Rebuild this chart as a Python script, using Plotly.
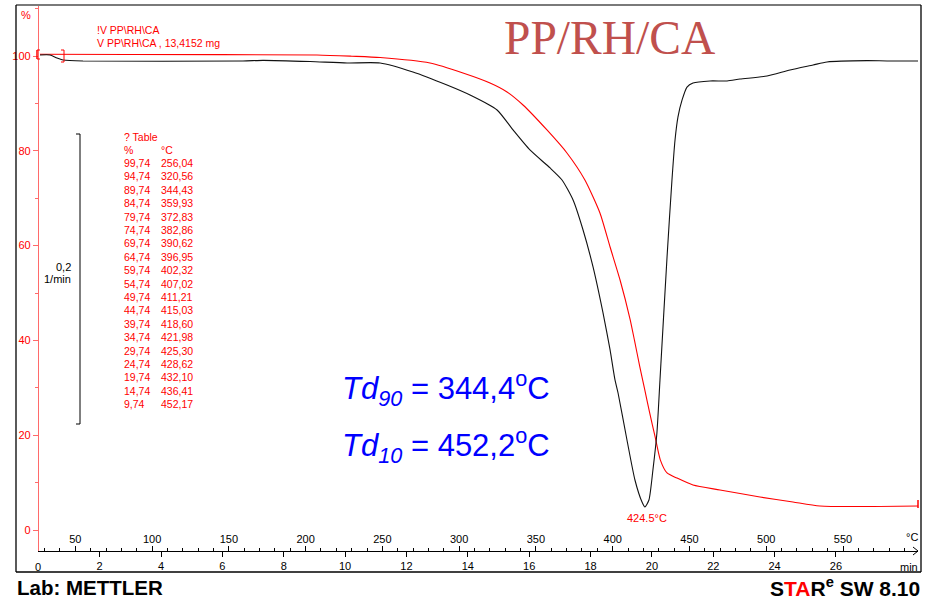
import plotly.graph_objects as go

# ---------------- data ----------------
# TGA curve (red): program temperature (°C) vs. residual mass (%)
tga_temp = [27.0, 85.6, 207.4, 230.2, 248.5, 281.0, 302.5, 320.1, 331.2, 341.6,
            357.2, 370.2, 381.9, 391.7, 398.3, 404.8, 411.3, 414.2, 417.5, 420.8,
            424.1, 427.6, 431.0, 435.4, 441.8, 452.3, 469.9, 495.9, 517.4, 535.0, 598.9]
tga_mass = [100.36, 100.32, 100.21, 99.95, 99.68, 98.52, 96.41, 94.30, 92.41, 89.66,
            84.39, 79.54, 73.84, 66.88, 59.70, 52.74, 44.5, 40.0, 34.7, 29.7,
            24.7, 19.7, 14.8, 12.03, 10.97, 9.49, 8.44, 6.96, 5.91, 5.06, 5.06]

# DTG curve (black): program temperature (°C) vs. rate (1/min)
dtg_temp = [27.0, 33.5, 38.1, 42.0, 55.0, 159.2, 172.2, 202.9, 227.0, 248.5,
            269.9, 292.1, 307.1, 324.7, 335.1, 346.1, 359.2, 367.0, 374.2, 380.7,
            387.2, 393.7, 398.3, 401.5, 403.5, 409.3, 414.5, 419.1, 421.0, 423.6,
            426.2, 428.8, 430.8, 435.4, 438.6, 440.6, 442.5, 445.2, 448.4, 452.3,
            463.4, 474.5, 482.9, 500.5, 515.5, 530.5, 539.6, 565.6, 578.7, 598.9]
dtg_rate = [0.0, 0.0, -0.0021, -0.0034, -0.0041, -0.0041, -0.0037, -0.0045, -0.0055, -0.0055,
            -0.0117, -0.0207, -0.0276, -0.0379, -0.0517, -0.0655, -0.0779, -0.0862, -0.1000, -0.1207,
            -0.1462, -0.1779, -0.2034, -0.2241, -0.2331, -0.2655, -0.2931, -0.3083, -0.3117, -0.3069,
            -0.2862, -0.2607, -0.2241, -0.1393, -0.0862, -0.0586, -0.0428, -0.0310, -0.0221, -0.0193,
            -0.0179, -0.0179, -0.0166, -0.0145, -0.0103, -0.0069, -0.0048, -0.0039, -0.0041, -0.0041]

# Step table (residual %, sample temperature °C)
table_pct = ["99,74", "94,74", "89,74", "84,74", "79,74", "74,74", "69,74", "64,74", "59,74",
             "54,74", "49,74", "44,74", "39,74", "34,74", "29,74", "24,74", "19,74", "14,74", "9,74"]
table_temp = ["256,04", "320,56", "344,43", "359,93", "372,83", "382,86", "390,62", "396,95", "402,32",
              "407,02", "411,21", "415,03", "418,60", "421,98", "425,30", "428,62", "432,10", "436,41", "452,17"]

time_ticks = [0, 2, 4, 6, 8, 10, 12, 14, 16, 18, 20, 22, 24, 26]
temp_ticks = [50, 100, 150, 200, 250, 300, 350, 400, 450, 500, 550]
mass_ticks = [0, 20, 40, 60, 80, 100]

# ---------------- layout geometry ----------------
FW, FH = 928, 599
L, R, T, B = 39, 918, 5, 551
W, H = R - L, B - T


def px(x):
    return (x - L) / W


def py(y):
    return (B - y) / H


RED = "#ff0000"
AXRED = "#ff6a6a"
FONT = "Liberation Sans, Arial, sans-serif"

fig = go.Figure()

# invisible anchor trace for the time axis
fig.add_trace(go.Scatter(x=[1], y=[50], xaxis="x", yaxis="y", mode="markers",
                         marker=dict(opacity=0), hoverinfo="skip", showlegend=False))

fig.add_trace(go.Scatter(x=dtg_temp, y=dtg_rate, xaxis="x2", yaxis="y2", mode="lines",
                         line=dict(color="#111111", width=1.1, shape="spline", smoothing=0.6),
                         showlegend=False, hoverinfo="skip"))
fig.add_trace(go.Scatter(x=tga_temp, y=tga_mass, xaxis="x2", yaxis="y", mode="lines",
                         line=dict(color=RED, width=1.1, shape="spline", smoothing=0.6),
                         showlegend=False, hoverinfo="skip"))

ann = []


def text(x, y, s, size=11, color="black", xanchor="left", yanchor="middle", family=FONT):
    ann.append(dict(x=px(x), y=py(y), xref="paper", yref="paper", text=s, showarrow=False,
                    xanchor=xanchor, yanchor=yanchor, font=dict(size=size, color=color, family=family)))


text(26, 15, "%", 11, RED, "center")
text(95, 30, "!V PP\\RH\\CA", 10.5, RED)
text(95, 43, "V PP\\RH\\CA , 13,4152 mg", 10.5, RED)
text(609, 38, "PP/RH/CA", 47.5, "#c0504d", "center",
     family="Liberation Serif, Times New Roman, serif")

# table
text(122, 137, "? Table", 10.5, RED)
text(122, 150, "%", 10.5, RED)
text(159, 150, "°C", 10.5, RED)
for i, (p, t) in enumerate(zip(table_pct, table_temp)):
    yy = 163 + i * 13.4
    text(122, yy, p, 10.5, RED)
    text(159, yy, t, 10.5, RED)

# DTG scale bracket label
text(73, 267, "0,2", 11, "black", "right")
text(73, 279, "1/min", 11, "black", "right")

# blue annotations
text(340, 388, "<i>Td<sub>90</sub></i> = 344,4<sup>o</sup>C", 31, "#0000ff")
text(340, 445, "<i>Td<sub>10</sub></i> = 452,2<sup>o</sup>C", 31, "#0000ff")

text(647, 518, "424.5°C", 11, RED, "center")
text(920, 537, "°C", 11, "black", "right")
text(920, 567, "min", 11, "black", "right")
text(38.3, 567, "0", 11, "black", "center")

text(15, 587, "<b>Lab: METTLER</b>", 20.5, "black")
text(922, 587, "<b>S<span style='color:#ff0000'>TA</span>R<sup>e</sup> SW 8.10</b>", 21,
     "black", "right")

shapes = []


def line(x0, y0, x1, y1, color="black", width=1):
    shapes.append(dict(type="line", xref="paper", yref="paper", x0=px(x0), y0=py(y0),
                       x1=px(x1), y1=py(y1), line=dict(color=color, width=width)))


# outer frame
line(16, 5, 921, 5, "#7a7a7a", 2)
line(16, 5, 16, 572, "black", 1.3)
line(921, 5, 921, 572, "black", 1.3)
line(16, 572, 921, 572, "black", 1.5)

# DTG scale bracket
line(80, 134, 80, 424)
line(76, 134, 80, 134)
line(76, 424, 80, 424)

# evaluation limit markers
line(37, 50, 37, 59, RED, 1.5)
line(37, 50, 40, 50, RED, 1)
line(37, 59, 40, 59, RED, 1)
line(64, 50, 64, 62, RED, 1)
line(61, 50, 64, 50, RED, 1)
line(61, 62, 64, 62, RED, 1)
line(918, 500, 918, 508, RED, 1.5)

# x-axis arrow
line(913, 547, 918, 551, "black", 1)
line(913, 555, 918, 551, "black", 1)

fig.update_layout(
    width=FW, height=FH,
    margin=dict(l=L, r=FW - R, t=T, b=FH - B, autoexpand=False),
    paper_bgcolor="white", plot_bgcolor="white",
    font=dict(family=FONT, size=11, color="black"),
    showlegend=False,
    annotations=ann, shapes=shapes,
    xaxis=dict(range=[(L - 38.3) / 30.68, (R - 38.3) / 30.68], tickvals=time_ticks,
               showline=True, linecolor="black", linewidth=1, ticks="outside", ticklen=5,
               tickcolor="black", showgrid=False, zeroline=False, automargin=False,
               tickfont=dict(size=11, color="black"), anchor="y"),
    xaxis2=dict(range=[50 + (L - 75.3) / 1.5354, 50 + (R - 75.3) / 1.5354],
                tickvals=temp_ticks, overlaying="x", side="bottom", anchor="y",
                showline=False, ticks="inside", ticklen=5, tickcolor="black",
                ticklabelposition="inside", showgrid=False, zeroline=False,
                tickfont=dict(size=11, color="black"),
                minor=dict(ticks="inside", ticklen=3, dtick=10, tick0=0, tickcolor="black")),
    yaxis=dict(range=[(530 - B) / 4.74, (530 - T) / 4.74], tickvals=mass_ticks,
               showline=True, linecolor=AXRED, linewidth=1.2, ticks="outside", ticklen=5,
               tickcolor=AXRED, showgrid=False, zeroline=False, automargin=False,
               tickfont=dict(size=11, color=RED), anchor="x",
               minor=dict(ticks="outside", ticklen=3, dtick=10, tick0=0, tickcolor=AXRED)),
    yaxis2=dict(range=[-(B - 55) / 1450, (55 - T) / 1450], overlaying="y", visible=False,
                showgrid=False, zeroline=False),
)

fig.write_html("out.html", config={"displayModeBar": False},
               post_script="document.body.style.margin='0';document.body.style.overflow='hidden';")
